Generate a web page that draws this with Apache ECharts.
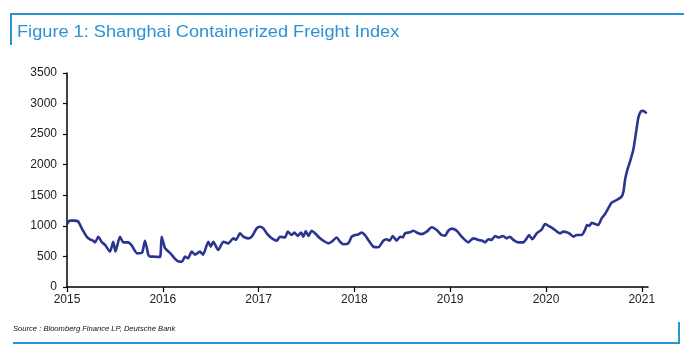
<!DOCTYPE html>
<html>
<head>
<meta charset="utf-8">
<script src="https://cdn.jsdelivr.net/npm/echarts@6/dist/echarts.min.js"></script>
<style>html,body{margin:0;padding:0;background:#fff}#c{width:684px;height:360px}</style>
</head>
<body>
<div id="c"></div>
<script>
var titleText = 'Figure 1: Shanghai Containerized Freight Index';
var sourceText = 'Source : Bloomberg Finance LP, Deutsche Bank';
var yearTicks = [2015, 2016, 2017, 2018, 2019, 2020, 2021];
var yTicks = [0, 500, 1000, 1500, 2000, 2500, 3000, 3500];
// decimal year positions
var dates = [
2015.00,2015.03,2015.08,2015.118,2015.157,2015.206,2015.24,2015.27,2015.292,2015.327,2015.365,2015.397,2015.449,2015.483,2015.506,2015.553,2015.588,2015.64,2015.675,2015.731,2015.783,2015.814,2015.849,2015.866,2015.919,2015.971,2015.988,
2016.023,2016.075,2016.148,2016.2,2016.232,2016.263,2016.302,2016.336,2016.388,2016.42,2016.475,2016.5,2016.527,2016.579,2016.632,2016.684,2016.736,2016.764,2016.806,2016.84,2016.893,2016.928,2016.98,
2017.015,2017.049,2017.085,2017.137,2017.189,2017.223,2017.276,2017.304,2017.346,2017.373,2017.408,2017.443,2017.467,2017.492,2017.519,2017.554,2017.589,2017.641,2017.693,2017.728,2017.763,2017.815,2017.85,2017.884,2017.936,2017.972,
2018.006,2018.041,2018.076,2018.111,2018.145,2018.197,2018.25,2018.302,2018.337,2018.368,2018.4,2018.441,2018.476,2018.507,2018.528,2018.58,2018.615,2018.667,2018.702,2018.755,2018.807,2018.859,2018.911,2018.946,2018.98,
2019.016,2019.068,2019.12,2019.189,2019.241,2019.293,2019.335,2019.363,2019.398,2019.433,2019.468,2019.502,2019.554,2019.59,2019.624,2019.659,2019.711,2019.763,2019.799,2019.823,2019.857,2019.903,2019.955,2019.99,
2020.042,2020.094,2020.146,2020.181,2020.216,2020.25,2020.285,2020.32,2020.373,2020.407,2020.428,2020.452,2020.477,2020.511,2020.546,2020.581,2020.616,2020.65,2020.686,2020.738,2020.79,2020.809,2020.825,2020.849,2020.877,2020.911,2020.939,2020.963,2020.988,
2021.016,2021.051
];
var scfi = [
1030,1085,1085,1070,950,823,780,760,730,820,730,690,578,740,580,823,730,730,680,550,560,757,530,500,496,490,823,
637,557,430,414,496,470,578,530,578,530,740,660,740,605,740,714,796,770,878,823,796,823,960,
986,960,878,796,757,823,810,905,850,890,835,890,823,915,835,920,878,796,740,714,740,810,740,700,714,823,
850,860,890,850,770,660,650,757,780,757,835,757,823,810,878,895,920,878,865,905,976,932,850,840,920,
955,920,823,730,796,770,757,730,780,770,835,810,835,796,823,770,730,730,796,850,780,878,940,1030,
986,932,878,905,895,870,823,850,850,932,1014,1000,1052,1030,1014,1123,1194,1287,1379,1423,1477,1560,1750,1913,2050,2240,2514,2760,2867,
2880,2840
];
var seriesData = dates.map(function (d, i) { return [d, scfi[i]]; });

var blue = '#2b93d3';
var chart = echarts.init(document.getElementById('c'), null, {renderer: 'canvas'});
chart.setOption({
  animation: false,
  backgroundColor: '#fff',
  grid: {left: 67, right: 36, top: 73, bottom: 73, containLabel: false},
  xAxis: {
    type: 'value', min: 2015, max: 2021.065,
    splitLine: {show: false},
    axisLine: {lineStyle: {color: '#000', width: 1.5}},
    axisTick: {length: 5, lineStyle: {color: '#000', width: 1.2}, customValues: yearTicks},
    axisLabel: {customValues: yearTicks, color: '#222', fontSize: 12, fontFamily: 'Liberation Sans, Arial, sans-serif', margin: 7,
      formatter: function (v) { return String(Math.round(v)); }}
  },
  yAxis: {
    type: 'value', min: 0, max: 3500, interval: 500,
    splitLine: {show: false},
    axisLine: {show: true, lineStyle: {color: '#000', width: 1.5}},
    axisTick: {show: true, length: 4, lineStyle: {color: '#000', width: 1.2}},
    axisLabel: {color: '#222', fontSize: 12, fontFamily: 'Liberation Sans, Arial, sans-serif', margin: 10,
      formatter: function (v) { return String(v); }}
  },
  series: [{
    type: 'line', data: seriesData, showSymbol: false, smooth: 0.2,
    lineStyle: {color: '#2a3590', width: 2.6}
  }],
  graphic: [
    {type: 'line', shape: {x1: 10, y1: 14, x2: 684, y2: 14}, style: {stroke: blue, lineWidth: 2}},
    {type: 'line', shape: {x1: 11, y1: 14, x2: 11, y2: 45}, style: {stroke: blue, lineWidth: 2}},
    {type: 'text', x: 17, y: 24, scaleX: 1.07, style: {text: titleText, fill: '#2b93d3', font: '17px "Liberation Sans", Arial, sans-serif'}},
    {type: 'text', left: 13, top: 325, style: {text: sourceText, fill: '#111', font: 'italic 7.6px "Liberation Sans", Arial, sans-serif'}},
    {type: 'line', shape: {x1: 13, y1: 343, x2: 679, y2: 343}, style: {stroke: blue, lineWidth: 2}},
    {type: 'line', shape: {x1: 679, y1: 322, x2: 679, y2: 344}, style: {stroke: blue, lineWidth: 2}}
  ]
});
</script>
</body>
</html>
